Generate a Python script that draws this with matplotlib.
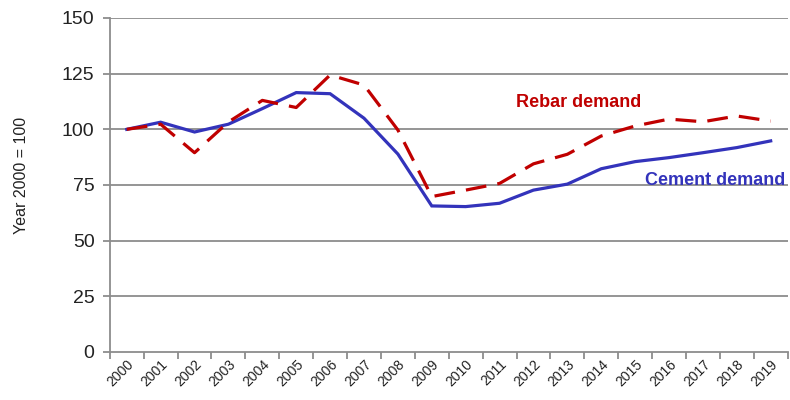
import matplotlib
matplotlib.use("Agg")
import matplotlib.pyplot as plt
import numpy as np

years = [str(y) for y in range(2000, 2020)]
cement = [100, 103.2, 98.8, 102.3, 109.3, 116.5, 116.0, 105.0, 88.9, 65.6,
          65.3, 66.8, 72.7, 75.4, 82.3, 85.5, 87.3, 89.5, 91.8, 94.8]
rebar = [100, 102.3, 89.5, 103.3, 113.0, 109.8, 124.4, 119.9, 99.7, 69.8,
         72.7, 75.7, 84.5, 88.8, 97.0, 101.5, 104.6, 103.4, 106.0, 103.7]
yticks = [0, 25, 50, 75, 100, 125, 150]

plt.rcParams['font.family'] = ['Liberation Sans', 'DejaVu Sans']
fig = plt.figure(figsize=(7.9, 4.0), dpi=100)
ax = fig.add_axes([0.139, 0.12, 0.858, 0.835])

x = np.arange(len(years))
grid_c = '#8c8c8c'
for v in yticks[1:]:
    ax.axhline(v, color=grid_c, lw=1.3, zorder=1)

ax.plot(x, cement, color='#3333BB', lw=2.3, zorder=3, solid_joinstyle='miter')
ax.plot(x, rebar, color='#C00000', lw=2.3, zorder=4, dashes=(6.5, 3.5))

ax.set_xlim(-0.5, len(years) - 0.5)
ax.set_ylim(0, 150)
ax.set_yticks(yticks)
ax.set_yticklabels([str(v) for v in yticks], fontsize=14, color='#222222')
ax.set_xticks(np.arange(len(years) + 1) - 0.5)
ax.set_xticklabels([])
ax.set_xticks(x, minor=True)
ax.set_xticklabels(years, minor=True, rotation=45, ha='right', va='top',
                   fontsize=10, rotation_mode='anchor', color='#222222')
ax.tick_params(axis='x', which='minor', length=0, pad=4)
ax.tick_params(axis='x', which='major', length=5, color=grid_c, width=1.3)
ax.tick_params(axis='y', length=5, color=grid_c, width=1.3, pad=6)

for s in ['top', 'right']:
    ax.spines[s].set_visible(False)
for s in ['left', 'bottom']:
    ax.spines[s].set_color(grid_c)
    ax.spines[s].set_linewidth(1.3)

ax.set_ylabel('Year 2000 = 100', fontsize=11.5, color='#222222')
ax.yaxis.set_label_coords(-0.119, 0.53)

ax.text(13.33, 112, 'Rebar demand', color='#C00000', fontsize=13,
        fontweight='bold', ha='center', va='center')
ax.text(17.35, 77, 'Cement demand', color='#3333BB', fontsize=13,
        fontweight='bold', ha='center', va='center')

fig.savefig('out.png', dpi=100)
